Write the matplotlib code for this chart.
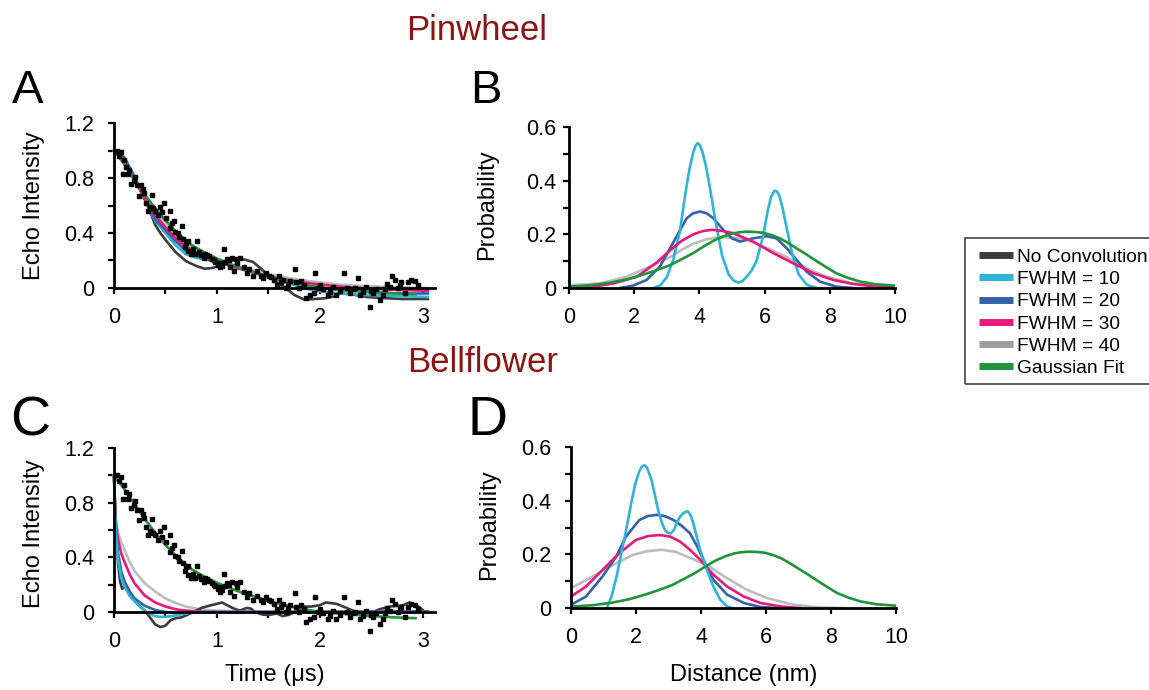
import matplotlib.pyplot as plt
from matplotlib.lines import Line2D
from matplotlib.patches import Rectangle

plt.rcParams['font.family'] = ['Liberation Sans', 'DejaVu Sans']

# ---- echo data (same experimental points in A and C) ----
echo_t = [0.03, 0.05, 0.07, 0.09, 0.10, 0.12, 0.14, 0.15, 0.17, 0.19, 0.20, 0.22, 0.24, 0.26, 0.28,
          0.29, 0.31, 0.33, 0.35, 0.37, 0.38, 0.40, 0.43, 0.45, 0.47, 0.49, 0.51, 0.54, 0.54, 0.56,
          0.58, 0.59, 0.62, 0.63, 0.66, 0.67, 0.69, 0.70, 0.72, 0.72, 0.75, 0.77, 0.79, 0.81, 0.83,
          0.85, 0.87, 0.88, 0.90, 0.92, 0.95, 0.97, 0.98,
          1.01, 1.03, 1.03, 1.05, 1.07, 1.08, 1.10, 1.12, 1.13, 1.15, 1.17, 1.19, 1.20, 1.22, 1.26,
          1.29, 1.31, 1.35, 1.39, 1.43, 1.45, 1.48, 1.51, 1.53, 1.55, 1.58, 1.60, 1.62, 1.64, 1.67,
          1.69, 1.71, 1.76, 1.77, 1.80, 1.82, 1.85, 1.87, 1.90, 1.94, 1.95, 1.98, 2.00, 2.03, 2.08,
          2.10, 2.13, 2.16, 2.20, 2.23, 2.26, 2.29, 2.32, 2.34, 2.37, 2.39, 2.42, 2.45, 2.49, 2.50,
          2.52, 2.55, 2.58, 2.61, 2.63, 2.65, 2.68, 2.70, 2.73, 2.76, 2.78, 2.79, 2.83, 2.86, 2.89,
          2.92, 2.95]
echo_y = [1.00, 0.96, 0.99, 0.83, 0.93, 0.88, 0.83, 0.86, 0.76, 0.78, 0.81, 0.75, 0.67, 0.75, 0.72,
          0.69, 0.62, 0.56, 0.59, 0.68, 0.58, 0.56, 0.53, 0.59, 0.55, 0.62, 0.51, 0.56, 0.44, 0.47,
          0.49, 0.41, 0.40, 0.37, 0.45, 0.36, 0.30, 0.33, 0.34, 0.27, 0.25, 0.28, 0.25, 0.34, 0.26,
          0.24, 0.22, 0.25, 0.24, 0.23, 0.21, 0.20, 0.19,
          0.17, 0.15, 0.18, 0.16, 0.28, 0.19, 0.21, 0.20, 0.15, 0.22, 0.12, 0.21, 0.18, 0.22, 0.15,
          0.11, 0.14, 0.09, 0.12, 0.09, 0.07, 0.11, 0.09, 0.08, 0.06, 0.02, 0.09, 0.04, 0.06, 0.00,
          0.03, 0.05, 0.14, 0.04, 0.00, 0.05, 0.02, -0.07, -0.05, -0.04, 0.11, 0.00, 0.02, -0.01, -0.05,
          -0.03, 0.01, -0.05, -0.02, 0.11, 0.00, -0.04, -0.01, 0.00, 0.07, -0.05, -0.03, 0.01, -0.14, -0.02,
          -0.04, -0.01, -0.09, -0.05, -0.01, 0.03, 0.01, 0.09, 0.06, 0.00, 0.02, 0.04, -0.04, 0.04, 0.06,
          0.05, 0.02]

# Gaussian fit in time domain (A and C)
fit_t = [0, 0.1, 0.2, 0.3, 0.4, 0.5, 0.625, 0.75, 0.875, 1.0, 1.125, 1.25, 1.375, 1.5, 1.75, 2.0,
         2.25, 2.5, 2.75, 2.93]
fit_y = [1.0, 0.9, 0.79, 0.68, 0.58, 0.49, 0.395, 0.315, 0.26, 0.215, 0.175, 0.14, 0.11, 0.08, 0.035,
         0.0, -0.015, -0.03, -0.04, -0.045]

# ---- Pinwheel time domain (A) ----
a_black_t = [0, 0.05, 0.1, 0.15, 0.2, 0.25, 0.3, 0.35, 0.4, 0.45, 0.5, 0.6, 0.7, 0.8, 0.88, 0.95, 1.0,
             1.1, 1.2, 1.25, 1.35, 1.43, 1.53, 1.6, 1.67, 1.75, 1.85, 1.95, 2.05, 2.12, 2.2, 2.3, 2.45,
             2.6, 2.8, 3.05]
a_black_y = [1.0, 0.99, 0.95, 0.88, 0.81, 0.73, 0.65, 0.555, 0.46, 0.40, 0.35, 0.26, 0.195, 0.16, 0.14,
             0.145, 0.155, 0.19, 0.21, 0.21, 0.19, 0.14, 0.07, 0.03, 0.0, -0.05, -0.085, -0.08, -0.075,
             -0.065, -0.04, -0.045, -0.065, -0.073, -0.08, -0.08]
a_fw10_t = [0, 0.05, 0.1, 0.15, 0.2, 0.25, 0.3, 0.35, 0.4, 0.5, 0.6, 0.7, 0.8, 0.9, 1.0, 1.1, 1.2, 1.3,
            1.4, 1.5, 1.6, 1.7, 1.8, 1.9, 2.0, 2.2, 2.4, 2.6, 2.8, 3.05]
a_fw10_y = [1.0, 0.99, 0.95, 0.88, 0.81, 0.73, 0.645, 0.56, 0.49, 0.40, 0.31, 0.245, 0.22, 0.205, 0.19,
            0.17, 0.15, 0.125, 0.10, 0.085, 0.06, 0.035, 0.01, -0.01, -0.025, -0.04, -0.05, -0.055,
            -0.06, -0.065]
a_fw20_t = [0, 0.05, 0.1, 0.15, 0.2, 0.25, 0.3, 0.35, 0.4, 0.5, 0.6, 0.7, 0.8, 0.9, 1.0, 1.1, 1.2, 1.3,
            1.4, 1.5, 1.6, 1.8, 2.0, 2.2, 2.4, 2.6, 2.8, 3.05]
a_fw20_y = [1.0, 0.985, 0.945, 0.875, 0.80, 0.72, 0.64, 0.565, 0.50, 0.42, 0.34, 0.27, 0.235, 0.21, 0.19,
            0.17, 0.145, 0.125, 0.105, 0.085, 0.065, 0.03, 0.005, -0.015, -0.025, -0.035, -0.04, -0.04]
a_fw30_t = [0, 0.05, 0.1, 0.15, 0.2, 0.25, 0.3, 0.35, 0.4, 0.5, 0.6, 0.7, 0.8, 0.9, 1.0, 1.1, 1.2, 1.3,
            1.4, 1.5, 1.6, 1.8, 2.0, 2.2, 2.4, 2.6, 2.8, 3.05]
a_fw30_y = [1.0, 0.96, 0.91, 0.85, 0.78, 0.72, 0.65, 0.59, 0.53, 0.44, 0.36, 0.30, 0.255, 0.22, 0.195,
            0.17, 0.145, 0.125, 0.105, 0.085, 0.07, 0.045, 0.025, 0.01, 0.0, -0.01, -0.015, -0.02]
a_fw40_t = [0, 0.05, 0.1, 0.2, 0.3, 0.4, 0.5, 0.6, 0.7, 0.8, 0.9, 1.0, 1.2, 1.4, 1.6, 1.8, 2.0, 2.2,
            2.4, 2.6, 2.8, 3.05]
a_fw40_y = [1.0, 0.955, 0.90, 0.78, 0.66, 0.55, 0.46, 0.38, 0.32, 0.27, 0.235, 0.205, 0.16, 0.12, 0.085,
            0.06, 0.04, 0.025, 0.015, 0.01, 0.005, 0.0]

# ---- Bellflower time domain (C) ----
c_black_t = [0, 0.02, 0.04, 0.06, 0.08, 0.1, 0.12, 0.14, 0.17, 0.2, 0.25, 0.3, 0.35, 0.4, 0.45, 0.5,
             0.55, 0.6, 0.65, 0.7, 0.77, 0.85, 0.92, 1.0, 1.05, 1.1, 1.15, 1.22, 1.29, 1.33, 1.37, 1.45,
             1.52, 1.58, 1.64, 1.7, 1.76, 1.84, 1.92, 2.0, 2.06, 2.16, 2.26, 2.35, 2.48, 2.58, 2.68,
             2.81, 2.87, 2.94, 3.0]
c_black_y = [1.0, 0.6, 0.35, 0.22, 0.17, 0.18, 0.19, 0.17, 0.12, 0.08, 0.045, 0.01, -0.04, -0.09, -0.11,
             -0.10, -0.06, -0.045, -0.04, -0.025, 0.0, 0.03, 0.045, 0.06, 0.07, 0.05, 0.03, 0.01, 0.03,
             0.025, 0.0, -0.02, -0.02, -0.01, -0.03, -0.02, 0.0, 0.04, 0.04, 0.05, 0.07, 0.06, 0.03,
             0.0, -0.01, 0.02, 0.04, 0.05, 0.07, 0.05, 0.015]
c_fw10_t = [0, 0.01, 0.02, 0.04, 0.07, 0.1, 0.15, 0.2, 0.25, 0.3, 0.35, 0.4, 0.45, 0.5, 0.6, 0.7, 0.8, 3.05]
c_fw10_y = [1.0, 0.72, 0.55, 0.38, 0.25, 0.19, 0.12, 0.08, 0.04, 0.01, -0.015, -0.03, -0.035, -0.035,
            -0.025, -0.01, 0.0, 0.0]
c_fw20_t = [0, 0.01, 0.02, 0.04, 0.07, 0.1, 0.15, 0.2, 0.3, 0.4, 0.5, 0.6, 0.8, 1.0, 3.05]
c_fw20_y = [1.0, 0.75, 0.58, 0.43, 0.30, 0.23, 0.15, 0.10, 0.045, 0.015, 0.0, -0.008, -0.005, 0.0, 0.0]
c_fw30_t = [0, 0.01, 0.02, 0.04, 0.07, 0.1, 0.15, 0.2, 0.3, 0.4, 0.5, 0.6, 0.7, 0.8, 1.0, 3.05]
c_fw30_y = [1.0, 0.78, 0.63, 0.53, 0.43, 0.37, 0.28, 0.21, 0.12, 0.07, 0.04, 0.02, 0.01, 0.005, 0.0, 0.005]
c_fw40_t = [0, 0.01, 0.02, 0.04, 0.07, 0.1, 0.15, 0.2, 0.3, 0.4, 0.5, 0.6, 0.7, 0.8, 0.9, 1.0, 1.25,
            1.5, 2.0, 3.05]
c_fw40_y = [1.0, 0.80, 0.66, 0.58, 0.51, 0.46, 0.37, 0.30, 0.21, 0.15, 0.10, 0.065, 0.04, 0.025, 0.015,
            0.01, 0.005, 0.003, 0.002, 0.0]

# ---- Pinwheel distance distributions (B) ----
b_fw10_r = [2.6, 2.8, 3.0, 3.2, 3.4, 3.6, 3.7, 3.8, 3.88, 3.95, 4.02, 4.1, 4.2, 4.3, 4.5, 4.7, 4.9,
            5.05, 5.2, 5.32, 5.45, 5.6, 5.75, 5.95, 6.1, 6.2, 6.3, 6.38, 6.45, 6.55, 6.65, 6.85, 7.05,
            7.3, 7.6]
b_fw10_p = [0.0, 0.01, 0.04, 0.105, 0.21, 0.375, 0.445, 0.50, 0.53, 0.54, 0.532, 0.505, 0.455, 0.39,
            0.245, 0.12, 0.05, 0.028, 0.02, 0.026, 0.042, 0.065, 0.10, 0.19, 0.29, 0.34, 0.362, 0.36,
            0.345, 0.30, 0.24, 0.125, 0.05, 0.012, 0.0]
b_fw20_r = [1.56, 1.97, 2.38, 2.79, 3.2, 3.61, 3.8, 4.03, 4.23, 4.43, 4.74, 5.0, 5.25, 5.65, 6.06,
            6.37, 6.68, 6.98, 7.29, 7.7, 8.2, 8.7]
b_fw20_p = [0.0, 0.009, 0.03, 0.08, 0.17, 0.26, 0.278, 0.285, 0.278, 0.26, 0.216, 0.185, 0.173, 0.185,
            0.193, 0.185, 0.148, 0.105, 0.061, 0.024, 0.005, 0.0]
b_fw30_r = [0.1, 0.75, 1.36, 2.08, 2.69, 3.1, 3.45, 3.81, 4.1, 4.38, 4.7, 5.04, 5.65, 6.27, 6.88, 7.5,
            8.11, 8.72, 9.44, 9.96]
b_fw30_p = [0.0, 0.005, 0.017, 0.042, 0.095, 0.14, 0.175, 0.20, 0.212, 0.217, 0.213, 0.204, 0.173,
            0.13, 0.092, 0.055, 0.03, 0.015, 0.005, 0.002]
b_fw40_r = [0.0, 0.95, 1.77, 2.48, 3.1, 3.45, 3.81, 4.2, 4.63, 5.05, 5.45, 6.06, 6.68, 7.3, 7.9, 8.72,
            9.96]
b_fw40_p = [0.01, 0.017, 0.042, 0.08, 0.115, 0.142, 0.165, 0.181, 0.19, 0.188, 0.18, 0.15, 0.115, 0.073,
            0.042, 0.017, 0.006]

# Gaussian fit distance distribution (B and D)
fit_r = [0.0, 0.7, 1.26, 1.8, 2.28, 2.7, 3.1, 3.45, 3.81, 4.12, 4.43, 4.75, 5.04, 5.25, 5.45, 5.7,
         5.96, 6.22, 6.47, 6.72, 6.98, 7.3, 7.6, 7.9, 8.2, 8.55, 8.93, 9.4, 9.96]
fit_p = [0.005, 0.011, 0.02, 0.033, 0.05, 0.067, 0.085, 0.107, 0.13, 0.154, 0.176, 0.193, 0.204, 0.208,
         0.21, 0.209, 0.206, 0.197, 0.185, 0.168, 0.148, 0.124, 0.10, 0.077, 0.055, 0.038, 0.024, 0.014,
         0.009]

# ---- Bellflower distance distributions (D) ----
d_fw10_r = [1.1, 1.25, 1.4, 1.55, 1.71, 1.85, 1.97, 2.1, 2.18, 2.26, 2.34, 2.48, 2.58, 2.68, 2.79,
            2.89, 2.98, 3.07, 3.16, 3.25, 3.35, 3.45, 3.53, 3.6, 3.68, 3.76, 3.87, 3.97, 4.08, 4.18,
            4.38, 4.59, 4.8, 4.95]
d_fw10_p = [0.0, 0.045, 0.118, 0.205, 0.30, 0.39, 0.46, 0.51, 0.527, 0.532, 0.522, 0.476, 0.42, 0.365,
            0.32, 0.29, 0.28, 0.278, 0.29, 0.316, 0.34, 0.353, 0.359, 0.36, 0.345, 0.316, 0.265, 0.217,
            0.178, 0.142, 0.08, 0.031, 0.006, 0.0]
d_fw20_r = [0.0, 0.46, 0.97, 1.38, 1.69, 2.1, 2.37, 2.64, 2.9, 3.15, 3.4, 3.66, 3.87, 4.07, 4.38, 4.8,
            5.31, 5.82, 6.33]
d_fw20_p = [0.012, 0.043, 0.118, 0.19, 0.266, 0.328, 0.343, 0.347, 0.342, 0.328, 0.307, 0.278, 0.232,
            0.18, 0.105, 0.05, 0.019, 0.004, 0.0]
d_fw30_r = [0.0, 0.46, 0.97, 1.48, 2.0, 2.37, 2.74, 3.05, 3.35, 3.65, 3.97, 4.38, 4.8, 5.31, 5.82,
            6.44, 7.05]
d_fw30_p = [0.043, 0.08, 0.142, 0.204, 0.254, 0.268, 0.272, 0.266, 0.248, 0.218, 0.18, 0.124, 0.08,
            0.043, 0.019, 0.006, 0.0]
d_fw40_r = [0.0, 0.67, 1.28, 1.9, 2.35, 2.79, 3.2, 3.56, 4.18, 4.8, 5.41, 6.03, 6.85, 7.67, 8.38]
d_fw40_p = [0.074, 0.118, 0.16, 0.198, 0.212, 0.217, 0.21, 0.192, 0.16, 0.111, 0.068, 0.037, 0.012,
            0.002, 0.0]

labels = ['No Convolution', 'FWHM = 10', 'FWHM = 20', 'FWHM = 30', 'FWHM = 40', 'Gaussian Fit']
colors = ['#3c3c3c', '#2fb3d8', '#3461a8', '#e8197d', '#bdbdbd', '#1f9438']
legend_gray = '#9d9d9d'
title_red = '#8b1414'
LW = 1.9

fig = plt.figure(figsize=(11.49, 6.9), dpi=100)
axA = fig.add_axes([0.0992, 0.5627, 0.2795, 0.259])
axB = fig.add_axes([0.4952, 0.5826, 0.2837, 0.2333])
axC = fig.add_axes([0.0992, 0.0932, 0.2795, 0.2575])
axD = fig.add_axes([0.4970, 0.1188, 0.2829, 0.2334])


def base_style(ax, ypad):
    for s in ['top', 'right']:
        ax.spines[s].set_visible(False)
    for s in ['left', 'bottom']:
        ax.spines[s].set_linewidth(2.0)
    ax.tick_params(axis='both', direction='out', length=4, width=1.6, labelsize=15.5)
    ax.tick_params(axis='x', pad=10)
    ax.tick_params(axis='y', pad=ypad)


def time_style(ax):
    base_style(ax, 10)
    ax.set_xlim(0, 3.12)
    ax.set_ylim(-0.1, 1.2)
    ax.spines['bottom'].set_position(('data', 0))
    ax.spines['left'].set_bounds(0, 1.2)
    ax.set_xticks([0, 0.5, 1, 1.5, 2, 2.5, 3])
    ax.set_xticklabels(['0', '', '1', '', '2', '', '3'])
    ax.set_yticks([0, 0.2, 0.4, 0.6, 0.8, 1.0, 1.2])
    ax.set_yticklabels(['0', '', '0.4', '', '0.8', '', '1.2'])
    ax.set_ylabel('Echo Intensity', fontsize=17)


def dist_style(ax, ypad):
    base_style(ax, ypad)
    ax.set_xlim(0, 10)
    ax.set_ylim(0, 0.6)
    ax.set_xticks([0, 2, 4, 6, 8, 10])
    ax.set_yticks([0, 0.1, 0.2, 0.3, 0.4, 0.5, 0.6])
    ax.set_yticklabels(['0', '', '0.2', '', '0.4', '', '0.6'])
    ax.set_ylabel('Probability', fontsize=17)


# A
axA.plot(a_fw40_t, a_fw40_y, color=colors[4], lw=LW, clip_on=False)
axA.plot(a_black_t, a_black_y, color=colors[0], lw=LW, clip_on=False)
axA.plot(a_fw10_t, a_fw10_y, color=colors[1], lw=LW, clip_on=False)
axA.plot(a_fw20_t, a_fw20_y, color=colors[2], lw=LW, clip_on=False)
axA.plot(a_fw30_t, a_fw30_y, color=colors[3], lw=LW, clip_on=False)
axA.plot(fit_t, fit_y, color=colors[5], lw=LW, clip_on=False)
axA.plot(echo_t, echo_y, 's', color='black', ms=2.4, clip_on=False, zorder=5)
time_style(axA)
axA.yaxis.set_label_coords(-0.215, 0.54)

# C
axC.plot(c_fw40_t, c_fw40_y, color=colors[4], lw=LW, clip_on=False)
axC.plot(c_black_t, c_black_y, color=colors[0], lw=LW, clip_on=False)
axC.plot(c_fw30_t, c_fw30_y, color=colors[3], lw=LW, clip_on=False)
axC.plot(c_fw20_t, c_fw20_y, color=colors[2], lw=LW, clip_on=False)
axC.plot(c_fw10_t, c_fw10_y, color=colors[1], lw=LW, clip_on=False)
axC.plot(fit_t, fit_y, color=colors[5], lw=LW, clip_on=False)
axC.plot(echo_t, echo_y, 's', color='black', ms=2.4, clip_on=False, zorder=5)
time_style(axC)
axC.yaxis.set_label_coords(-0.215, 0.52)
axC.set_xlabel('Time (\u03bcs)', fontsize=17)
axC.xaxis.set_label_coords(0.5, -0.215)

# B
axB.plot(b_fw40_r, b_fw40_p, color=colors[4], lw=LW)
axB.plot(b_fw20_r, b_fw20_p, color=colors[2], lw=LW)
axB.plot(b_fw10_r, b_fw10_p, color=colors[1], lw=LW)
axB.plot(b_fw30_r, b_fw30_p, color=colors[3], lw=LW)
axB.plot(fit_r, fit_p, color=colors[5], lw=LW)
dist_style(axB, 5)
axB.yaxis.set_label_coords(-0.218, 0.515)

# D
axD.plot(d_fw40_r, d_fw40_p, color=colors[4], lw=LW)
axD.plot(d_fw20_r, d_fw20_p, color=colors[2], lw=LW)
axD.plot(d_fw30_r, d_fw30_p, color=colors[3], lw=LW)
axD.plot(d_fw10_r, d_fw10_p, color=colors[1], lw=LW)
axD.plot(fit_r, fit_p, color=colors[5], lw=LW)
dist_style(axD, 10)
axD.yaxis.set_label_coords(-0.218, 0.52)
axD.set_xlabel('Distance (nm)', fontsize=17)
axD.xaxis.set_label_coords(0.53, -0.35)

# titles and panel letters
fig.text(477 / 1149, 1 - 30 / 690, 'Pinwheel', color=title_red, fontsize=25, ha='center', va='center')
fig.text(483 / 1149, 1 - 362 / 690, 'Bellflower', color=title_red, fontsize=25, ha='center', va='center')
fig.text(12 / 1149, 1 - 103 / 690, 'A', fontsize=34, va='baseline')
fig.text(470 / 1149, 1 - 103 / 690, 'B', fontsize=34, va='baseline')
fig.text(10 / 1149, 1 - 435 / 690, 'C', fontsize=40, va='baseline')
fig.text(468 / 1149, 1 - 435 / 690, 'D', fontsize=40, va='baseline')

# legend: box drawn separately so it runs past the right edge as in the original
legend_colors = colors[:4] + [legend_gray, colors[5]]
handles = [Line2D([], [], color=c, lw=5, solid_capstyle='butt') for c in legend_colors]
fig.legend(handles, labels, loc='upper left', bbox_to_anchor=(979 / 1149, 1 - 248.5 / 690),
           borderaxespad=0, borderpad=0, fontsize=13.8, handlelength=1.75, handletextpad=0.25,
           labelspacing=0.25, frameon=False)
fig.patches.append(Rectangle((965 / 1149, 1 - 384 / 690), 200 / 1149, 146 / 690,
                             transform=fig.transFigure, fill=False, edgecolor='#444444', lw=1.2))

plt.savefig('out.png', dpi=100)
plt.close()
